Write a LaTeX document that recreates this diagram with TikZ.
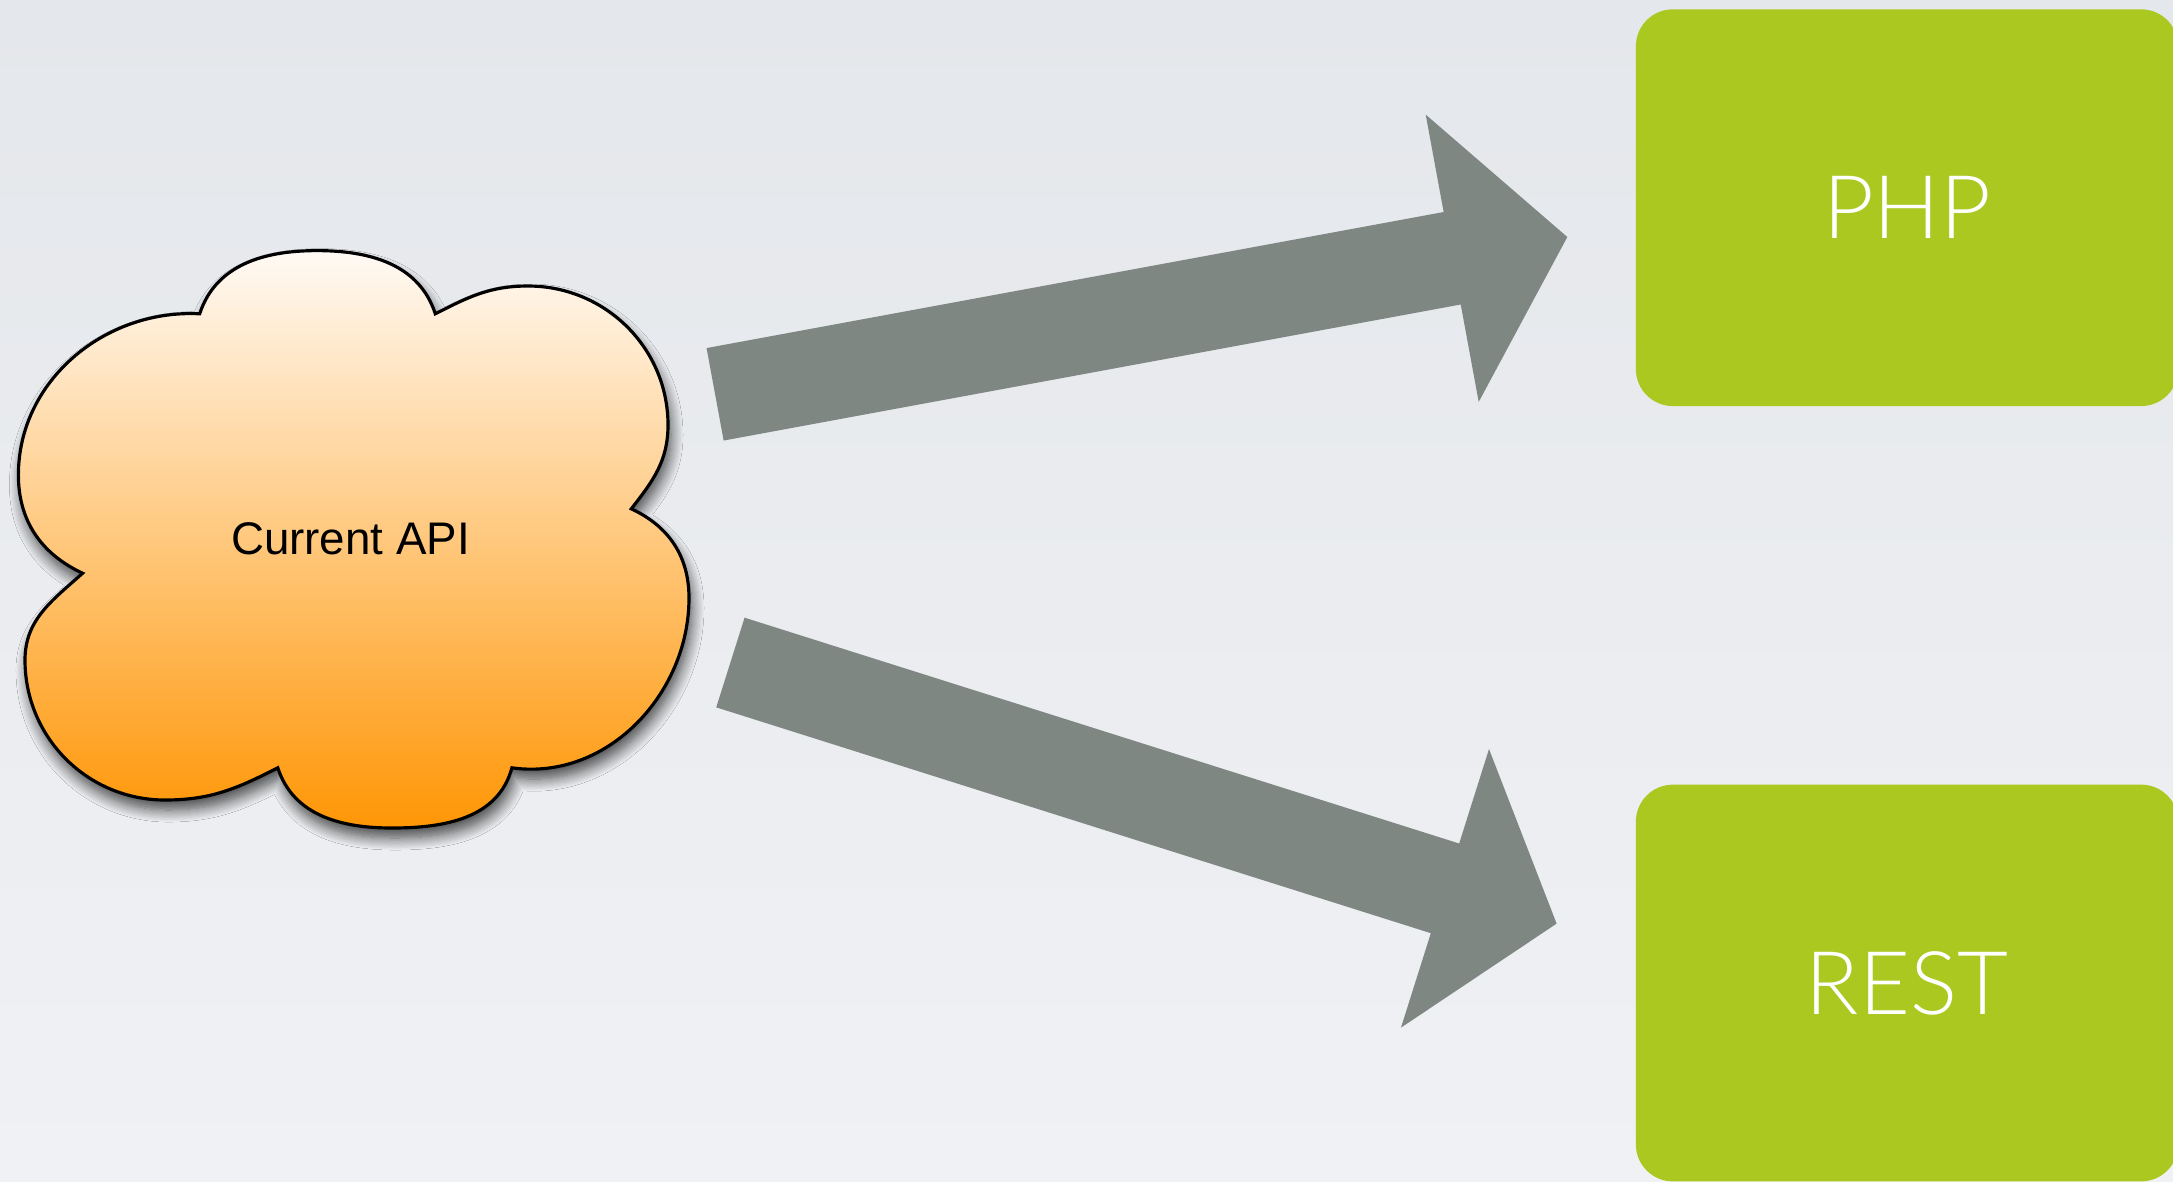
\documentclass[tikz,border=0pt]{standalone}
\usepackage{fontspec}
\setmainfont{Liberation Sans}
\newfontfamily\lightfont{Lato Light}
\usetikzlibrary{calc,shadows.blur}
\definecolor{bgtop}{RGB}{228,231,235}
\definecolor{bgbot}{RGB}{240,241,244}
\definecolor{boxgreen}{RGB}{170,200,32}
\definecolor{arrowgray}{RGB}{127,135,131}
\definecolor{cloudtop}{RGB}{255,250,245}
\definecolor{cloudmid}{RGB}{255,205,148}
\definecolor{cloudbot}{RGB}{255,150,5}
\tikzset{
  box/.style={fill=boxgreen, rounded corners=0.37cm, minimum width=5.42cm,
    minimum height=3.965cm, text=white, inner sep=0pt,
    font=\lightfont\fontsize{25}{30}\selectfont},
  blockarrow/.style={fill=arrowgray},
  cloudtext/.style={font=\fontsize{13}{15}\selectfont, text=black},
  cloudshape/.style={draw=black, line width=0.9pt, top color=cloudtop,
    middle color=cloudmid, bottom color=cloudbot,
    blur shadow={shadow xshift=0.03cm, shadow yshift=-0.1cm,
      shadow blur radius=0.12cm, shadow blur steps=12, shadow opacity=70}},
}
\newcommand\mkblockarrow[2]{%
  \coordinate (#1b) at ($(#2)!1.17cm!(#1)$);
  \fill[blockarrow] ($(#1)!0.47cm!90:(#2)$) -- ($(#1b)!0.47cm!90:(#2)$)
    -- ($(#1b)!1.46cm!90:(#2)$) -- (#2) -- ($(#1b)!1.46cm!-90:(#2)$)
    -- ($(#1b)!0.47cm!-90:(#2)$) -- ($(#1)!0.47cm!-90:(#2)$) -- cycle;}
\def\cloudpath{(199.7,313.8) to[out=72,in=180] (316.8,250.6) to[out=0,in=108] (435.3,313.8)
 to[out=27,in=180] (528,286) to[out=0,in=90] (668,425) to[out=270,in=52] (631.3,508.8)
 to[out=-25,in=90] (689,598) to[out=270,in=-8] (511.9,767.8)
 to[out=-105,in=0] (392,828) to[out=180,in=-72] (277.8,767.8)
 to[out=207,in=0] (165,800) to[out=180,in=270] (25,660) to[out=90,in=222] (82.6,573.2)
 to[out=155,in=270] (18.4,475) to[out=90,in=177] (199.7,313.8) -- cycle}
\begin{document}
\begin{tikzpicture}[x=0.01cm,y=-0.01cm]
\useasboundingbox (0,0) rectangle (2173,1181);
\clip (0,0) rectangle (2173,1181);
\shade[top color=bgtop, bottom color=bgbot] (0,0) rectangle (2173,1181);
% arrows
\coordinate (a1s) at (715.1,394.3);
\coordinate (a1e) at (1567.3,237.0);
\coordinate (a2s) at (730.4,662.5);
\coordinate (a2e) at (1556.6,923.6);
\mkblockarrow{a1s}{a1e}
\mkblockarrow{a2s}{a2e}
% cloud
\shade[cloudshape] \cloudpath;
\node[cloudtext] (api) at (350.5,539) {Current API};
% boxes
\node[box] (php) at (1907,207.7) {PHP};
\node[box] (rest) at (1907,983) {REST};
\end{tikzpicture}
\end{document}
